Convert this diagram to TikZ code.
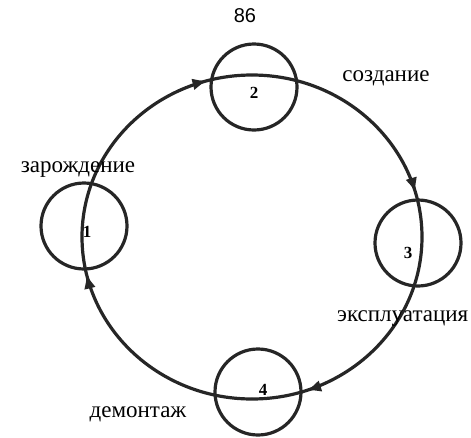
\documentclass[tikz,border=0pt]{standalone}
\usepackage{fontspec}
\setmainfont{Liberation Serif}
\newfontfamily\pagenofont{Liberation Sans}
\usetikzlibrary{arrows.meta,decorations.markings}

\begin{document}
\begin{tikzpicture}[x=1pt,y=-1pt,
  stage/.style={draw=black!85,line width=3.2pt,circle,minimum size=86pt,inner sep=0pt},
  stagenum/.style={font=\bfseries\fontsize{17}{17}\selectfont,inner sep=0pt},
  phase/.style={font=\fontsize{23}{23}\selectfont,inner sep=0pt},
  flow/.style={draw=black!85,line width=3.2pt},
  tipat/.style={postaction={decorate,decoration={markings,
    mark=at position #1 with {\arrow{Latex[length=15pt,width=12pt]}}}}}]
\useasboundingbox (0,0) rectangle (471,437);
\node[font=\pagenofont\fontsize{20}{20}\selectfont,inner sep=0pt] (page) at (245,16) {86};
% stages of the cycle
\node[stage] (s1) at (84,226) {};
\node[stage] (s2) at (254,87) {};
\node[stage] (s3) at (418,243) {};
\node[stage] (s4) at (258,392) {};
\node[stagenum] (n1) at (87,232) {1};
\node[stagenum] (n2) at (254,93) {2};
\node[stagenum] (n3) at (408,253) {3};
\node[stagenum] (n4) at (263,390) {4};
% points where the cycle crosses the stages
\coordinate (p1) at (82,237);
\coordinate (p2) at (252,75);
\coordinate (p3) at (422,237);
\coordinate (p4) at (252,399);
\draw[flow,tipat=-45pt] (p1) arc[start angle=180,end angle=270,x radius=170,y radius=162];
\draw[flow,tipat=-45pt] (p2) arc[start angle=270,end angle=360,x radius=170,y radius=162];
\draw[flow,tipat=-55pt] (p3) arc[start angle=0,end angle=90,x radius=170,y radius=162];
\draw[flow,tipat=-37pt] (p4) arc[start angle=90,end angle=180,x radius=170,y radius=162];
% phase names
\node[phase] (birth) at (78,170) {зарождение};
\node[phase] (build) at (386,78) {создание};
\node[phase,anchor=west] (use) at (337,319) {эксплуатация};
\node[phase] (dismantle) at (138,414) {демонтаж};
\end{tikzpicture}
\end{document}
